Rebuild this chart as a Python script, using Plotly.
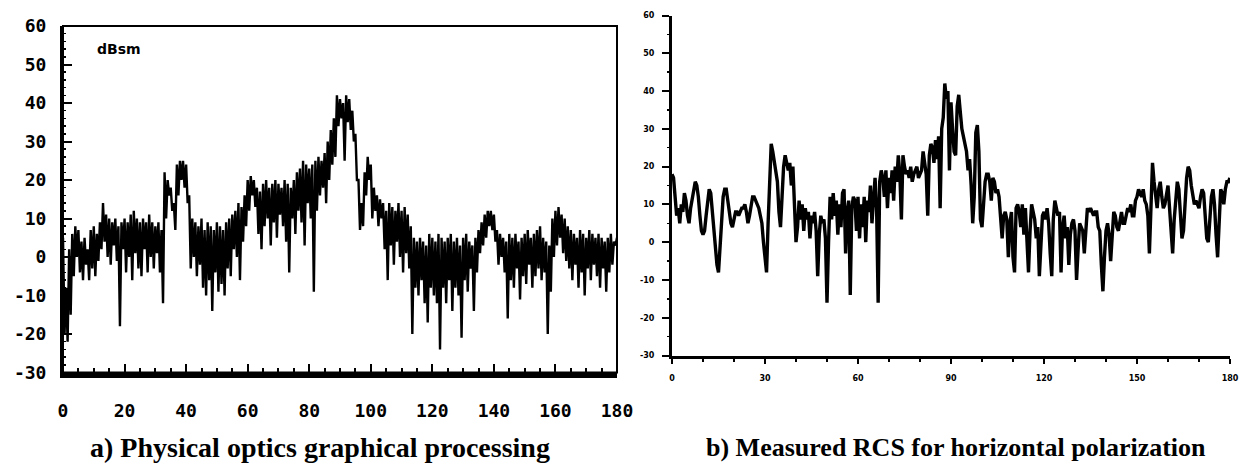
import plotly.graph_objects as go

# ---------------- data (0.5 degree sampling) ----------------
ANGLE_STEP = 0.5

# a) Physical optics graphical processing, RCS in dBsm
rcs_a = [
    5, -20, -8, -22, 2, -15, 6, -5, 8, 0, 7, -4, 4, -6, 5, -2, 2, -6, 7, -3,
    8, -5, 6, -1, 9, 2, 14, 4, 11, 0, 10, -2, 9, 3, 10, -1, 8, -18, 9, 2,
    10, -4, 9, 0, 11, -6, 12, 1, 10, -3, 9, -5, 10, 2, 9, -4, 11, 0, 9, -3,
    8, 1, 9, -4, 7, -12, 22, 10, 20, 16, 18, 12, 14, 7, 24, 16, 25, 20, 25, 18,
    24, 14, 16, -3, 10, 0, 9, -5, 8, -2, 10, -8, 7, -10, 9, -6, 8, -14, 7, -4,
    9, -9, 8, -7, 7, -10, 9, -3, 10, -5, 11, 2, 12, 0, 14, -6, 13, 4, 16, 8,
    20, 12, 21, 16, 20, 13, 18, 6, 17, 2, 19, 8, 20, 10, 18, 3, 19, 9, 20, 5,
    19, 11, 18, 8, 20, 4, 19, -4, 18, 10, 20, 6, 22, 12, 23, 9, 25, 3, 24, 14,
    23, 10, 24, -9, 25, 12, 26, 16, 25, 18, 27, 14, 30, 20, 33, 24, 36, 26, 42, 34,
    41, 36, 40, 25, 42, 35, 41, 33, 38, 30, 32, 20, 20, 7, 14, 8, 22, 16, 26, 20,
    24, 10, 18, 12, 16, 8, 15, 10, 14, 2, 12, -6, 14, 3, 13, -2, 12, 4, 14, 0,
    12, -4, 13, 1, 11, -3, 8, -20, 5, -8, 4, -10, 5, -6, 4, -12, 3, -17, 6, -8,
    5, -10, 4, -12, 6, -24, 5, -8, 4, -12, 5, -6, 6, -14, 4, -8, 5, -10, 3, -21,
    5, -6, 6, -9, 4, -3, 3, -14, 5, -4, 7, 1, 9, 3, 11, 5, 12, 8, 12, 7,
    11, 4, 7, -2, 6, 0, 5, -4, 4, -16, 6, -6, 5, -8, 6, -3, 4, -11, 5, -5,
    6, -7, 7, -2, 5, -8, 6, -5, 7, -3, 8, -6, 5, -4, 4, -20, 3, -9, 10, 0,
    12, 3, 13, 5, 11, 1, 10, -1, 8, -3, 7, -6, 6, -2, 5, -8, 7, -4, 6, -10,
    5, -3, 7, -6, 6, -2, 5, -5, 6, -8, 5, -3, 4, -9, 5, -4, 6, -2, 4, 3,
    5,
]

# b) Measured RCS for horizontal polarization
rcs_b = [
    18, 17, 12, 7, 9, 5, 10, 8, 13, 11, 7, 5, 9, 11, 14, 16, 15, 12, 7, 3,
    2, 3, 7, 11, 14, 13, 8, 2, -3, -6, -8, -1, 8, 12, 14, 14, 11, 7, 5, 4,
    6, 8, 8, 7, 8, 9, 9, 10, 8, 5, 7, 10, 12, 12, 11, 10, 9, 7, 5, 0,
    -5, -8, 5, 18, 26, 24, 21, 19, 16, 8, 4, 12, 20, 23, 21, 19, 21, 15, 20, 8,
    0, 4, 11, 6, 10, 3, 9, 6, 8, 1, 7, 5, 8, 3, -9, 2, 7, 5, 6, 1,
    -16, 0, 12, 6, 13, 7, 11, 2, 10, 4, 13, 14, -3, 8, 11, -14, 9, 12, 11, 3,
    12, 1, 10, 4, 12, 0, 11, 8, 15, 5, 13, 17, 9, -16, 16, 19, 17, 12, 19, 9,
    17, 13, 19, 11, 20, 16, 23, 18, 6, 23, 20, 18, 19, 17, 20, 16, 18, 19, 20, 17,
    18, 19, 24, 20, 18, 7, 23, 26, 25, 21, 27, 22, 28, 9, 30, 33, 42, 38, 40, 19,
    37, 30, 24, 23, 36, 39, 34, 30, 28, 26, 24, 19, 22, 15, 5, 12, 29, 31, 24, 6,
    4, 10, 16, 18, 18, 16, 11, 17, 16, 13, 14, 12, 5, 1, 7, 8, 6, -4, 5, 8,
    -4, -8, 9, 10, 8, 4, 10, 2, 9, 0, -8, 3, 10, 8, 6, 1, 4, -9, 2, 7,
    8, 6, 9, 5, -3, -9, 6, 11, 9, 7, 8, -8, 4, 7, 1, 4, -6, 2, 5, 6,
    3, -10, -2, 5, 4, 3, -3, 3, 9, 8, 9, 8, 7, 8, 8, 4, 3, -6, -13, -4,
    3, 5, 2, -5, 3, 8, 7, 4, 3, 6, 8, 5, 5, 7, 9, 8, 10, 7, 7, 11,
    12, 14, 13, 12, 14, 11, 10, 7, -3, 8, 21, 16, 12, 9, 14, 16, 12, 9, 10, 13,
    15, 9, 3, -3, 6, 12, 16, 14, 8, 1, 3, 10, 17, 20, 19, 15, 12, 10, 11, 10,
    9, 12, 14, 13, 6, 1, 0, 7, 12, 14, 10, 2, -4, 5, 14, 13, 10, 14, 16, 16,
    17,
]

angles_a = [i * ANGLE_STEP for i in range(len(rcs_a))]
angles_b = [i * ANGLE_STEP for i in range(len(rcs_b))]

# tick labels
a_x_ticks = [0, 20, 40, 60, 80, 100, 120, 140, 160, 180]
a_x_labels = ["0", "20", "40", "60", "80", "100", "120", "140", "160", "180"]
a_y_ticks = [-30, -20, -10, 0, 10, 20, 30, 40, 50, 60]
a_y_labels = ["-30", "-20", "-10", "0", "10", "20", "30", "40", "50", "60"]
b_x_ticks = [0, 30, 60, 90, 120, 150, 180]
b_x_labels = ["0", "30", "60", "90", "120", "150", "180"]
b_y_ticks = [-30, -20, -10, 0, 10, 20, 30, 40, 50, 60]
b_y_labels = ["-30", "-20", "-10", "0", "10", "20", "30", "40", "50", "60"]

unit_label = "dBsm"
caption_a = "a) Physical optics graphical processing"
caption_b = "b) Measured RCS for horizontal polarization"

# ---------------- figure ----------------
W, H = 1245, 472
fig = go.Figure()

fig.add_trace(go.Scatter(x=angles_a, y=rcs_a, mode="lines",
                         line=dict(color="black", width=2.4),
                         xaxis="x", yaxis="y", showlegend=False, hoverinfo="skip"))
fig.add_trace(go.Scatter(x=angles_b, y=rcs_b, mode="lines",
                         line=dict(color="black", width=3.4),
                         xaxis="x2", yaxis="y2", showlegend=False, hoverinfo="skip"))

mono = dict(family="DejaVu Sans Mono", size=18, color="black", weight="bold")
tiny = dict(family="DejaVu Sans", size=8, color="black", weight="bold")

fig.update_layout(
    width=W, height=H, autosize=False,
    margin=dict(l=0, r=0, t=0, b=0, pad=0, autoexpand=False),
    paper_bgcolor="white", plot_bgcolor="white",
    hovermode=False,
    xaxis=dict(domain=[63 / W, 617 / W], range=[0, 180], anchor="y",
               automargin=False,
               tickmode="array", tickvals=a_x_ticks, ticktext=a_x_labels,
               ticks="inside", ticklen=9, tickwidth=2, tickcolor="black",
               minor=dict(dtick=5, tick0=0, ticks="inside", ticklen=5,
                          tickwidth=2, tickcolor="black"),
               showline=True, linewidth=5, linecolor="black",
               showgrid=False, zeroline=False, tickfont=mono,
               ticklabelstandoff=18),
    yaxis=dict(domain=[1 - 372.5 / H, 1 - 26 / H], range=[-30, 60], anchor="x",
               automargin=False,
               tickmode="array", tickvals=a_y_ticks, ticktext=a_y_labels,
               ticks="inside", ticklen=9, tickwidth=2, tickcolor="black",
               minor=dict(dtick=2, tick0=0, ticks="inside", ticklen=3,
                          tickwidth=1.5, tickcolor="black"),
               showline=True, linewidth=3, linecolor="black",
               showgrid=False, zeroline=False, tickfont=mono,
               ticklabelstandoff=10),
    xaxis2=dict(domain=[672 / W, 1230 / W], range=[0, 180], anchor="y2",
                automargin=False,
                tickmode="array", tickvals=b_x_ticks, ticktext=b_x_labels,
                ticks="outside", ticklen=5, tickwidth=2, tickcolor="black",
                minor=dict(dtick=10, tick0=0, ticks="outside", ticklen=3,
                           tickwidth=2, tickcolor="black"),
                showline=True, linewidth=3, linecolor="black",
                showgrid=False, zeroline=False, tickfont=tiny,
                ticklabelstandoff=8),
    yaxis2=dict(domain=[1 - 355.5 / H, 1 - 15.5 / H], range=[-30, 60], anchor="x2",
                automargin=False,
                tickmode="array", tickvals=b_y_ticks, ticktext=b_y_labels,
                ticks="outside", ticklen=7, tickwidth=2, tickcolor="black",
                minor=dict(dtick=5, tick0=0, ticks="outside", ticklen=2,
                           tickwidth=1.5, tickcolor="black"),
                showline=True, linewidth=3, linecolor="black",
                showgrid=False, zeroline=False, tickfont=tiny,
                ticklabelstandoff=6),
)

# frame around panel a
fig.add_shape(type="rect", xref="x domain", yref="y domain",
              x0=0, x1=1, y0=0, y1=1, line=dict(color="black", width=2),
              fillcolor="rgba(0,0,0,0)", layer="above")

fig.add_annotation(text=unit_label, xref="x", yref="y", x=10.5, y=54,
                   xanchor="left", yanchor="middle", showarrow=False,
                   font=dict(family="DejaVu Sans", size=14, color="black", weight="bold"))

fig.add_annotation(text=caption_a, xref="paper", yref="paper",
                   x=320 / W, y=1 - 447 / H, xanchor="center", yanchor="middle",
                   showarrow=False,
                   font=dict(family="Liberation Serif", size=28, color="black", weight="bold"))
fig.add_annotation(text=caption_b, xref="paper", yref="paper",
                   x=956 / W, y=1 - 447 / H, xanchor="center", yanchor="middle",
                   showarrow=False,
                   font=dict(family="Liberation Serif", size=26, color="black", weight="bold"))

fig.write_html("out.html", config={"displayModeBar": False, "staticPlot": True},
               post_script="document.body.style.margin='0';")
